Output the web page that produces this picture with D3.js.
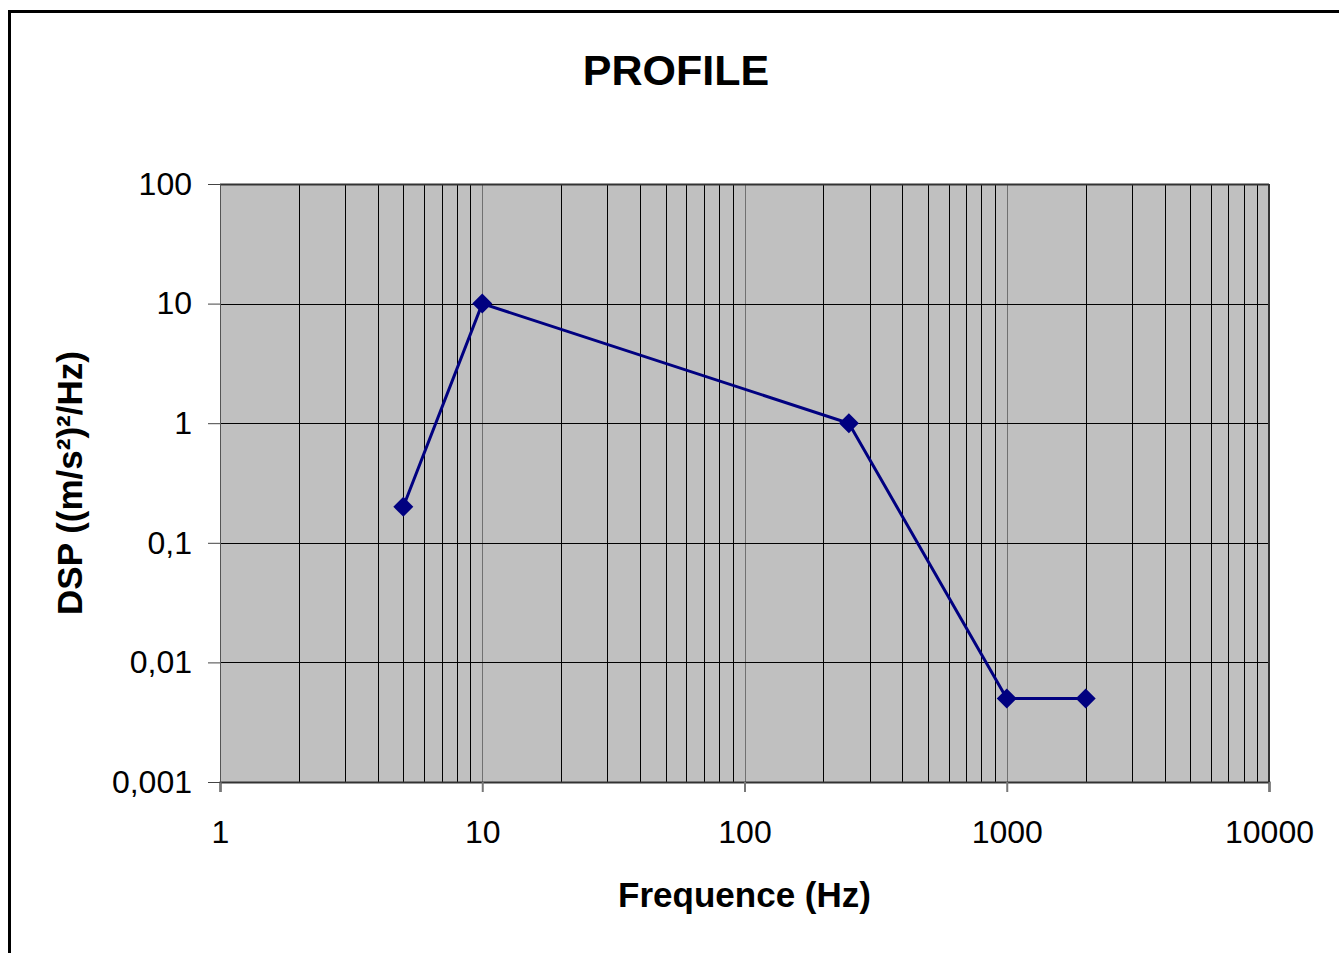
<!DOCTYPE html>
<html>
<head>
<meta charset="utf-8">
<script src="https://cdn.jsdelivr.net/npm/d3@7"></script>
<style>
  body { margin: 0; background: #fff; }
  svg { display: block; font-family: "Liberation Sans", Arial, sans-serif; }
</style>
</head>
<body>
<div id="chart"></div>
<script>
// Data
const freqs = [5, 10, 250, 1000, 2000];
const dsp = [0.2, 10, 1, 0.005, 0.005];
const xTicks = [1, 10, 100, 1000, 10000];
const xTickLabels = ['1', '10', '100', '1000', '10000'];
const yTicks = [0.001, 0.01, 0.1, 1, 10, 100];
const yTickLabels = ['0,001', '0,01', '0,1', '1', '10', '100'];

const W = 1339, H = 953;
const margin = {top: 184, right: 70, bottom: 171, left: 220};
const width = W - margin.left - margin.right;
const height = H - margin.top - margin.bottom;

const svg = d3.select('#chart').append('svg')
    .attr('width', W)
    .attr('height', H);

// outer frame
svg.append('rect')
    .attr('x', 9.5).attr('y', 11.5)
    .attr('width', W + 20).attr('height', H + 20)
    .attr('fill', 'none')
    .attr('stroke', '#000')
    .attr('stroke-width', 3);

const g = svg.append('g')
    .attr('transform', `translate(${margin.left},${margin.top})`);

const x = d3.scaleLog().domain([1, 10000]).range([0, width]);
const y = d3.scaleLog().domain([0.001, 100]).range([height, 0]);

// plot background
g.append('rect')
    .attr('width', width).attr('height', height)
    .attr('fill', '#c0c0c0');

// vertical grid (minor and decades)
const xGrid = [];
for (let d = 1; d < 10000; d *= 10) {
    for (let k = 1; k < 10; k++) xGrid.push(d * k);
}
xGrid.push(10000);
g.selectAll('.vgrid')
    .data(xGrid)
    .enter().append('line')
    .attr('class', 'vgrid')
    .attr('x1', d => Math.round(x(d)) + 0.5)
    .attr('x2', d => Math.round(x(d)) + 0.5)
    .attr('y1', 0).attr('y2', height)
    .attr('stroke', d => xTicks.includes(d) ? '#707070' : '#000')
    .attr('stroke-width', 1);

// horizontal grid
g.selectAll('.hgrid')
    .data(yTicks)
    .enter().append('line')
    .attr('class', 'hgrid')
    .attr('x1', 0).attr('x2', width)
    .attr('y1', d => Math.round(y(d)) + 0.5)
    .attr('y2', d => Math.round(y(d)) + 0.5)
    .attr('stroke', '#000')
    .attr('stroke-width', 1);

// plot border top/right
g.append('line').attr('x1', 0).attr('x2', width).attr('y1', 0.5).attr('y2', 0.5)
    .attr('stroke', '#333').attr('stroke-width', 2);
g.append('line').attr('x1', width).attr('x2', width).attr('y1', 0).attr('y2', height)
    .attr('stroke', '#333').attr('stroke-width', 2);

// axes
const xAxis = d3.axisBottom(x)
    .tickValues(xTicks)
    .tickFormat((d, i) => xTickLabels[i])
    .tickSize(10)
    .tickPadding(28);
const gx = g.append('g')
    .attr('transform', `translate(0,${height})`)
    .call(xAxis);
gx.select('.domain').attr('stroke', '#333').attr('stroke-width', 2);
gx.selectAll('.tick line').attr('stroke', '#777').attr('stroke-width', 2);
gx.selectAll('text').attr('font-size', 32).attr('fill', '#000');

const yAxis = d3.axisLeft(y)
    .tickValues(yTicks)
    .tickFormat((d, i) => yTickLabels[i])
    .tickSize(12)
    .tickPadding(16);
const gy = g.append('g').call(yAxis);
gy.select('.domain').attr('stroke', '#555').attr('stroke-width', 1);
gy.selectAll('.tick line').attr('stroke', '#444').attr('stroke-width', 1);
gy.selectAll('text').attr('font-size', 32).attr('fill', '#000');

// series line
const pts = freqs.map((f, i) => [f, dsp[i]]);
g.append('path')
    .datum(pts)
    .attr('fill', 'none')
    .attr('stroke', '#000080')
    .attr('stroke-width', 3)
    .attr('d', d3.line().x(d => x(d[0])).y(d => y(d[1])));

// diamond markers
g.selectAll('.marker')
    .data(pts)
    .enter().append('path')
    .attr('class', 'marker')
    .attr('transform', d => `translate(${x(d[0])},${y(d[1])})`)
    .attr('d', 'M0,-10L10,0L0,10L-10,0Z')
    .attr('fill', '#000080');

// title and axis titles
svg.append('text')
    .attr('x', 676).attr('y', 85)
    .attr('text-anchor', 'middle')
    .attr('font-size', 43).attr('font-weight', 'bold')
    .text('PROFILE');

svg.append('text')
    .attr('x', margin.left + width / 2).attr('y', 907)
    .attr('text-anchor', 'middle')
    .attr('font-size', 35).attr('font-weight', 'bold')
    .text('Frequence (Hz)');

svg.append('text')
    .attr('transform', `translate(82,${margin.top + height / 2}) rotate(-90)`)
    .attr('text-anchor', 'middle')
    .attr('font-size', 35).attr('font-weight', 'bold')
    .text('DSP ((m/s²)²/Hz)');
</script>
</body>
</html>
